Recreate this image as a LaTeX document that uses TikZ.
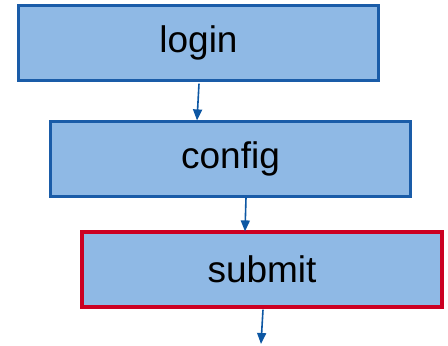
\documentclass[tikz,border=0pt]{standalone}
\usepackage{fontspec}
\setmainfont{Liberation Sans}
\usetikzlibrary{arrows.meta}
\definecolor{boxfill}{HTML}{8FB9E5}
\definecolor{boxline}{HTML}{1A5CA8}
\definecolor{flowblue}{HTML}{0D57A3}
\definecolor{markred}{HTML}{CC0022}

\begin{document}
\begin{tikzpicture}[x=1pt, y=-1pt, -{Triangle[width=9pt,length=11pt]},
                    line width=1.6pt, draw=flowblue]
\tikzstyle{etape}=[draw=boxline, fill=boxfill, line width=2.2pt, inner sep=0pt,
                   minimum width=360pt, minimum height=75pt,
                   font=\fontsize{37}{44}\selectfont]
% la derniere etape est encadree en rouge
\tikzstyle{courante}=[etape, draw=markred, line width=3.2pt]

\useasboundingbox (0,0) rectangle (448,346);

\node[etape] (login) at (198.5,43) {login};
\node[etape] (config) at (230.5,159) {config};
\node[courante] (submit) at (262,269.5) {submit};
\coordinate (suite) at (261,344);

\draw ([xshift=0.5pt,yshift=-2pt]login.south) -- ([xshift=-33.5pt]config.north);
\draw ([xshift=15.5pt]config.south) -- ([xshift=-17pt,yshift=-1pt]submit.north);
\draw ([xshift=1pt,yshift=-1pt]submit.south) -- (suite);
\end{tikzpicture}
\end{document}
